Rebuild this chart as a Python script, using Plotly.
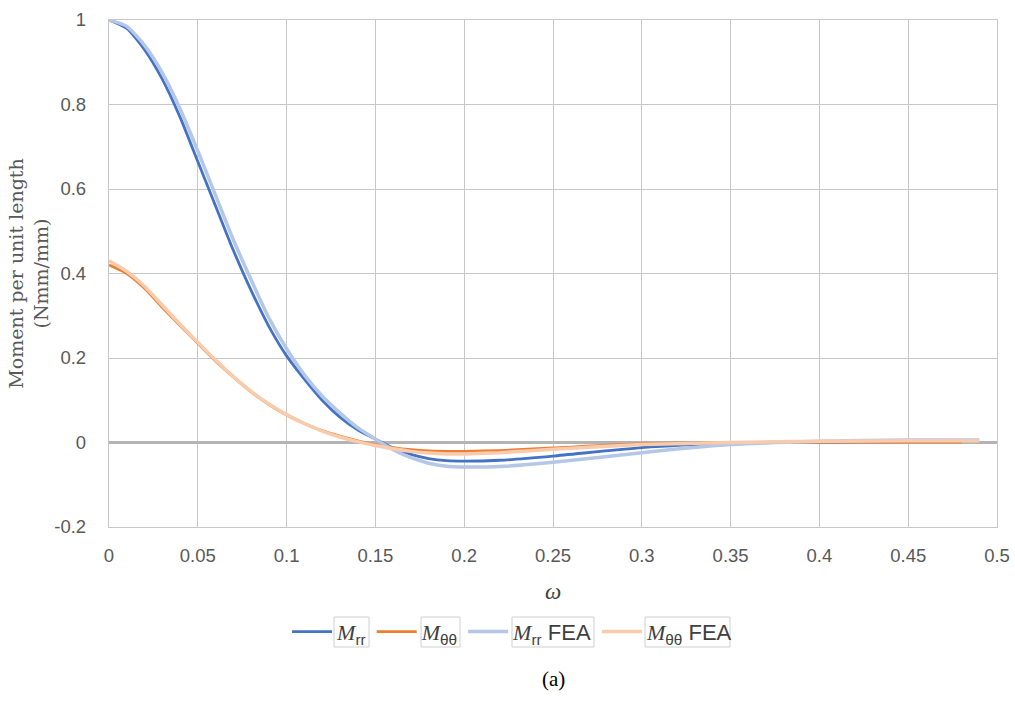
import plotly.graph_objects as go

# Analytical solution
x_mrr = [0, 0.01, 0.02, 0.03, 0.04, 0.05, 0.06, 0.07, 0.08, 0.09, 0.10, 0.11, 0.12, 0.13, 0.14,
         0.15, 0.16, 0.17, 0.18, 0.19, 0.20, 0.22, 0.25, 0.30, 0.35, 0.40, 0.45, 0.48]
m_rr = [1.0, 0.98, 0.93, 0.86, 0.77, 0.665, 0.56, 0.455, 0.36, 0.275, 0.205, 0.15, 0.10, 0.06, 0.03,
        0.008, -0.013, -0.028, -0.038, -0.043, -0.044, -0.042, -0.032, -0.012, -0.002, 0.001, 0.002, 0.002]
m_tt = [0.42, 0.40, 0.365, 0.32, 0.277, 0.235, 0.193, 0.155, 0.12, 0.09, 0.065, 0.045, 0.028, 0.015, 0.004,
        -0.005, -0.012, -0.017, -0.02, -0.021, -0.021, -0.019, -0.013, -0.003, 0.0, 0.001, 0.001, 0.001]

# FEA results
x_fea = [0, 0.01, 0.02, 0.03, 0.04, 0.05, 0.06, 0.07, 0.08, 0.09, 0.10, 0.11, 0.12, 0.13, 0.14,
         0.15, 0.16, 0.17, 0.18, 0.19, 0.20, 0.22, 0.25, 0.30, 0.35, 0.40, 0.45, 0.49]
m_rr_fea = [1.0, 0.985, 0.94, 0.875, 0.79, 0.69, 0.585, 0.48, 0.385, 0.295, 0.222, 0.16, 0.11, 0.07, 0.035,
            0.008, -0.017, -0.036, -0.049, -0.056, -0.058, -0.057, -0.047, -0.024, -0.005, 0.003, 0.006, 0.006]
m_tt_fea = [0.43, 0.405, 0.37, 0.325, 0.28, 0.237, 0.195, 0.156, 0.121, 0.091, 0.066, 0.045, 0.027, 0.013, 0.002,
            -0.007, -0.015, -0.021, -0.025, -0.027, -0.027, -0.024, -0.016, -0.005, 0.0, 0.003, 0.004, 0.004]

x_ticks = [0, 0.05, 0.1, 0.15, 0.2, 0.25, 0.3, 0.35, 0.4, 0.45, 0.5]
x_labels = ["0", "0.05", "0.1", "0.15", "0.2", "0.25", "0.3", "0.35", "0.4", "0.45", "0.5"]
y_ticks = [-0.2, 0, 0.2, 0.4, 0.6, 0.8, 1.0]
y_labels = ["-0.2", "0", "0.2", "0.4", "0.6", "0.8", "1"]

SANS = "font-family:'Liberation Sans',Arial;font-style:normal"
def lab(sub, extra=""):
    s = "<i>M</i><sub><span style=\"%s\">%s</span></sub>" % (SANS, sub)
    if extra:
        s += "<span style=\"%s\"> %s</span>" % (SANS, extra)
    return s

names = [lab("rr"), lab("θθ"), lab("rr", "FEA"), lab("θθ", "FEA")]

fig = go.Figure()
fig.add_trace(go.Scatter(x=x_mrr, y=m_rr, mode="lines", name=names[0],
                         line=dict(color="#4472C4", width=2.8, shape="spline", smoothing=0.6)))
fig.add_trace(go.Scatter(x=x_mrr, y=m_tt, mode="lines", name=names[1],
                         line=dict(color="#ED7D31", width=2.8, shape="spline", smoothing=0.6)))
fig.add_trace(go.Scatter(x=x_fea, y=m_rr_fea, mode="lines", name=names[2],
                         line=dict(color="#B4C7E7", width=3.5, shape="spline", smoothing=0.6)))
fig.add_trace(go.Scatter(x=x_fea, y=m_tt_fea, mode="lines", name=names[3],
                         line=dict(color="#F8CBAD", width=3.5, shape="spline", smoothing=0.6)))

# thin frames around the legend labels (text-box look), in pixel coords converted to paper
PL, PR, PT, PB = 109, 997, 20, 527
def px_x(p):
    return (p - PL) / (PR - PL)
def px_y(p):
    return (PB - p) / (PB - PT)
label_boxes = [(334, 369), (421, 460), (512, 594), (645, 730)]
shapes = [dict(type="rect", xref="paper", yref="paper", x0=px_x(a), x1=px_x(b),
               y0=px_y(647), y1=px_y(617), line=dict(color="#D0D0D0", width=1), layer="below")
          for a, b in label_boxes]

tickfont = dict(family="Liberation Sans, Arial", size=18.5, color="#595959")
SERIF = "DejaVu Serif, Liberation Serif, serif"
fig.update_layout(
    width=1015, height=702,
    margin=dict(l=PL, r=1015 - PR, t=PT, b=702 - PB, autoexpand=False),
    paper_bgcolor="white", plot_bgcolor="white",
    showlegend=True,
    legend=dict(orientation="h", xref="container", yref="container", x=0.505, y=0.1,
                xanchor="center", yanchor="middle", bgcolor="rgba(0,0,0,0)",
                font=dict(family="Liberation Serif, Times New Roman", size=22, color="#404040"),
                itemwidth=40, traceorder="normal", tracegroupgap=0),
    shapes=shapes,
    xaxis=dict(range=[0, 0.5], tickvals=x_ticks, ticktext=x_labels, showgrid=True, gridcolor="#C8C8C8",
               gridwidth=1.3, showline=True, linecolor="#C8C8C8", linewidth=1.3, mirror=True,
               zeroline=False, ticks="outside", ticklen=12, tickcolor="rgba(0,0,0,0)", tickfont=tickfont,
               automargin=False,
               title=dict(text="<i>ω</i>", font=dict(family="Liberation Serif, Times New Roman", size=23, color="#404040"),
                          standoff=17)),
    yaxis=dict(range=[-0.2, 1.0], tickvals=y_ticks, ticktext=y_labels, showgrid=True, gridcolor="#C8C8C8",
               gridwidth=1.3, showline=True, linecolor="#C8C8C8", linewidth=1.3, mirror=True,
               zeroline=True, zerolinecolor="#B4B4B4", zerolinewidth=2.5,
               ticks="outside", ticklen=18, tickcolor="rgba(0,0,0,0)", tickfont=tickfont,
               automargin=False,
               title=dict(text="Moment per unit length<br>(Nmm/mm)",
                          font=dict(family=SERIF, size=19, color="#595959"),
                          standoff=0)),
    annotations=[dict(text="(a)", xref="paper", yref="paper", x=0.5, y=-0.3, showarrow=False,
                      xanchor="center", yanchor="middle",
                      font=dict(family="Liberation Serif, Times New Roman", size=21, color="black"))],
)
fig.write_html("out.html")
